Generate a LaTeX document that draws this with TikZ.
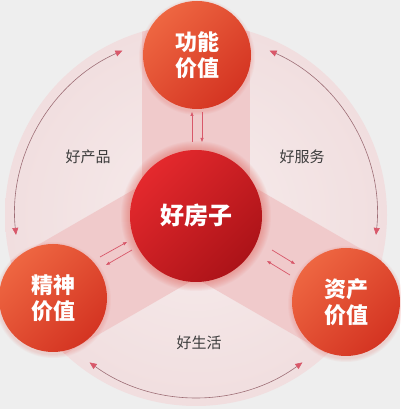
\documentclass[tikz,border=0pt]{standalone}
\usepackage{fontspec}
\setmainfont{Noto Sans CJK SC}
\usetikzlibrary{arrows.meta}
\definecolor{bg}{HTML}{EEEEEE}
\definecolor{pale}{HTML}{F1DEDF}
\definecolor{paleIn}{HTML}{F6ECEC}
\definecolor{band}{HTML}{F0CACB}
\definecolor{orA}{HTML}{EE6641}
\definecolor{orB}{HTML}{D43422}
\definecolor{rdA}{HTML}{E4292D}
\definecolor{rdB}{HTML}{AC1318}
\definecolor{arcline}{HTML}{9E6E76}
\definecolor{tipc}{HTML}{D8586A}
\definecolor{lbl}{HTML}{3C3C3C}
\definecolor{glow}{HTML}{E8584E}
\tikzset{
  outerball/.style={circle, inner sep=0pt, minimum size=108pt, top color=orA, bottom color=orB, shading angle=45, text=white, font=\fontsize{22pt}{26pt}\selectfont\bfseries, align=center},
  centerball/.style={circle, inner sep=0pt, minimum size=132pt, top color=rdA, bottom color=rdB, shading angle=45, text=white, font=\fontsize{24pt}{28pt}\selectfont\bfseries},
  lbltext/.style={text=lbl, font=\fontsize{15pt}{18pt}\selectfont},
  cyclearc/.style={draw=arcline, line width=0.6pt, {Triangle[length=7pt,width=6pt,color=tipc]}-{Triangle[length=7pt,width=6pt,color=tipc]}},
  linkarrow/.style={draw=tipc, line width=0.7pt, -{Triangle[length=4pt,width=3pt]}},
  bandfill/.style={fill=band},
}
\begin{document}
\begin{tikzpicture}[x=1pt,y=1pt]
\fill[bg] (0,0) rectangle (400,409);
\useasboundingbox (0,0) rectangle (400,409);
\coordinate (C) at (196,194);
\coordinate (M) at (196,193);
% big pale disc
\shade[inner color=paleIn, outer color=pale] (C) circle[radius=191];
% bands
\begin{scope}
  \clip (C) circle[radius=191];
  \foreach \a in {0,120,-120} {
    \fill[bandfill, shift={(M)}, rotate=\a] (-54,0) rectangle (54,260);
  }
\end{scope}
% glow around centre
\foreach \i in {1,...,9} \fill[glow, opacity=0.05] (M) circle[radius=66+\i];
% shadows of outer balls
\foreach \px/\py in {197/354,53/111,346/107} {
  \foreach \i in {1,...,4} \fill[glow, opacity=0.05] (\px,\py-2) circle[radius=54+\i];
}
% cycle arcs
\coordinate (a1) at ([shift={(114:181)}]M);
\coordinate (a2) at ([shift={(234:181)}]M);
\coordinate (a3) at ([shift={(-6:181)}]M);
\draw[cyclearc] (a1) arc[start angle=114, end angle=186, radius=181];
\draw[cyclearc] (a2) arc[start angle=234, end angle=306, radius=181];
\draw[cyclearc] (a3) arc[start angle=-6, end angle=66, radius=181];
% small link arrows
\coordinate (t1a) at (192,267); \coordinate (t1b) at (192,297);
\coordinate (t2a) at (202,297); \coordinate (t2b) at (202,267);
\coordinate (l1a) at (100,152); \coordinate (l1b) at (127,167);
\coordinate (l2a) at (132,159); \coordinate (l2b) at (106,144);
\coordinate (r1a) at (272,159); \coordinate (r1b) at (295,145);
\coordinate (r2a) at (290,134); \coordinate (r2b) at (267,148);
\draw[linkarrow] (t1a) -- (t1b);
\draw[linkarrow] (t2a) -- (t2b);
\draw[linkarrow] (l1a) -- (l1b);
\draw[linkarrow] (l2a) -- (l2b);
\draw[linkarrow] (r1a) -- (r1b);
\draw[linkarrow] (r2a) -- (r2b);
% balls
\node[centerball] (hf) at (M) {好房子};
\node[outerball] (gn) at (197,354) {功能\\价值};
\node[outerball] (js) at (53,111) {精神\\价值};
\node[outerball] (zc) at (346,107) {资产\\价值};
% labels
\node[lbltext] (lp) at (88,252) {好产品};
\node[lbltext] (ls) at (302,252) {好服务};
\node[lbltext] (ll) at (199,66) {好生活};
\end{tikzpicture}
\end{document}
